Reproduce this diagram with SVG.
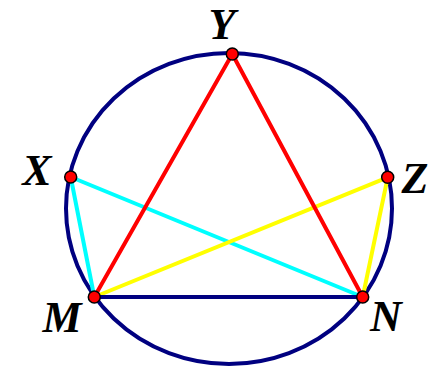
<svg xmlns="http://www.w3.org/2000/svg" width="439" height="371" viewBox="0 0 439 371">
<style>
.lbl{font-family:"Liberation Serif","Times New Roman",serif;font-weight:bold;font-style:italic;font-size:44px;fill:#000;text-anchor:middle}
.pt{fill:#ff0000;stroke:#000;stroke-width:1.5}
.seg{stroke-width:4;stroke-linecap:round;fill:none}
</style>
<rect width="439" height="371" fill="#fff"/>
<g id="circle"><ellipse cx="229" cy="208.5" rx="163" ry="155.5" fill="none" stroke="#000080" stroke-width="4"/></g>
<g id="connectors">
<line class="seg" x1="70.7" y1="177" x2="94.3" y2="297" stroke="#00ffff"/>
<line class="seg" x1="70.7" y1="177" x2="362.7" y2="297" stroke="#00ffff"/>
<line class="seg" x1="387.7" y1="177.3" x2="94.3" y2="297" stroke="#ffff00"/>
<line class="seg" x1="387.7" y1="177.3" x2="362.7" y2="297" stroke="#ffff00"/>
<line class="seg" x1="232.3" y1="54" x2="94.3" y2="297" stroke="#ff0000"/>
<line class="seg" x1="232.3" y1="54" x2="362.7" y2="297" stroke="#ff0000"/>
<line class="seg" x1="94.3" y1="297" x2="362.7" y2="297" stroke="#000080" stroke-width="3.5"/>
</g>
<g id="Y"><circle class="pt" cx="232.3" cy="54" r="6"/><text class="lbl" x="222" y="39">Y</text></g>
<g id="X"><circle class="pt" cx="70.7" cy="177" r="6"/><text class="lbl" x="37" y="185">X</text></g>
<g id="Z"><circle class="pt" cx="387.7" cy="177.3" r="6"/><text class="lbl" x="415" y="193">Z</text></g>
<g id="M"><circle class="pt" cx="94.3" cy="297" r="6"/><text class="lbl" x="62" y="332">M</text></g>
<g id="N"><circle class="pt" cx="362.7" cy="297" r="6"/><text class="lbl" x="386" y="331">N</text></g>
</svg>
